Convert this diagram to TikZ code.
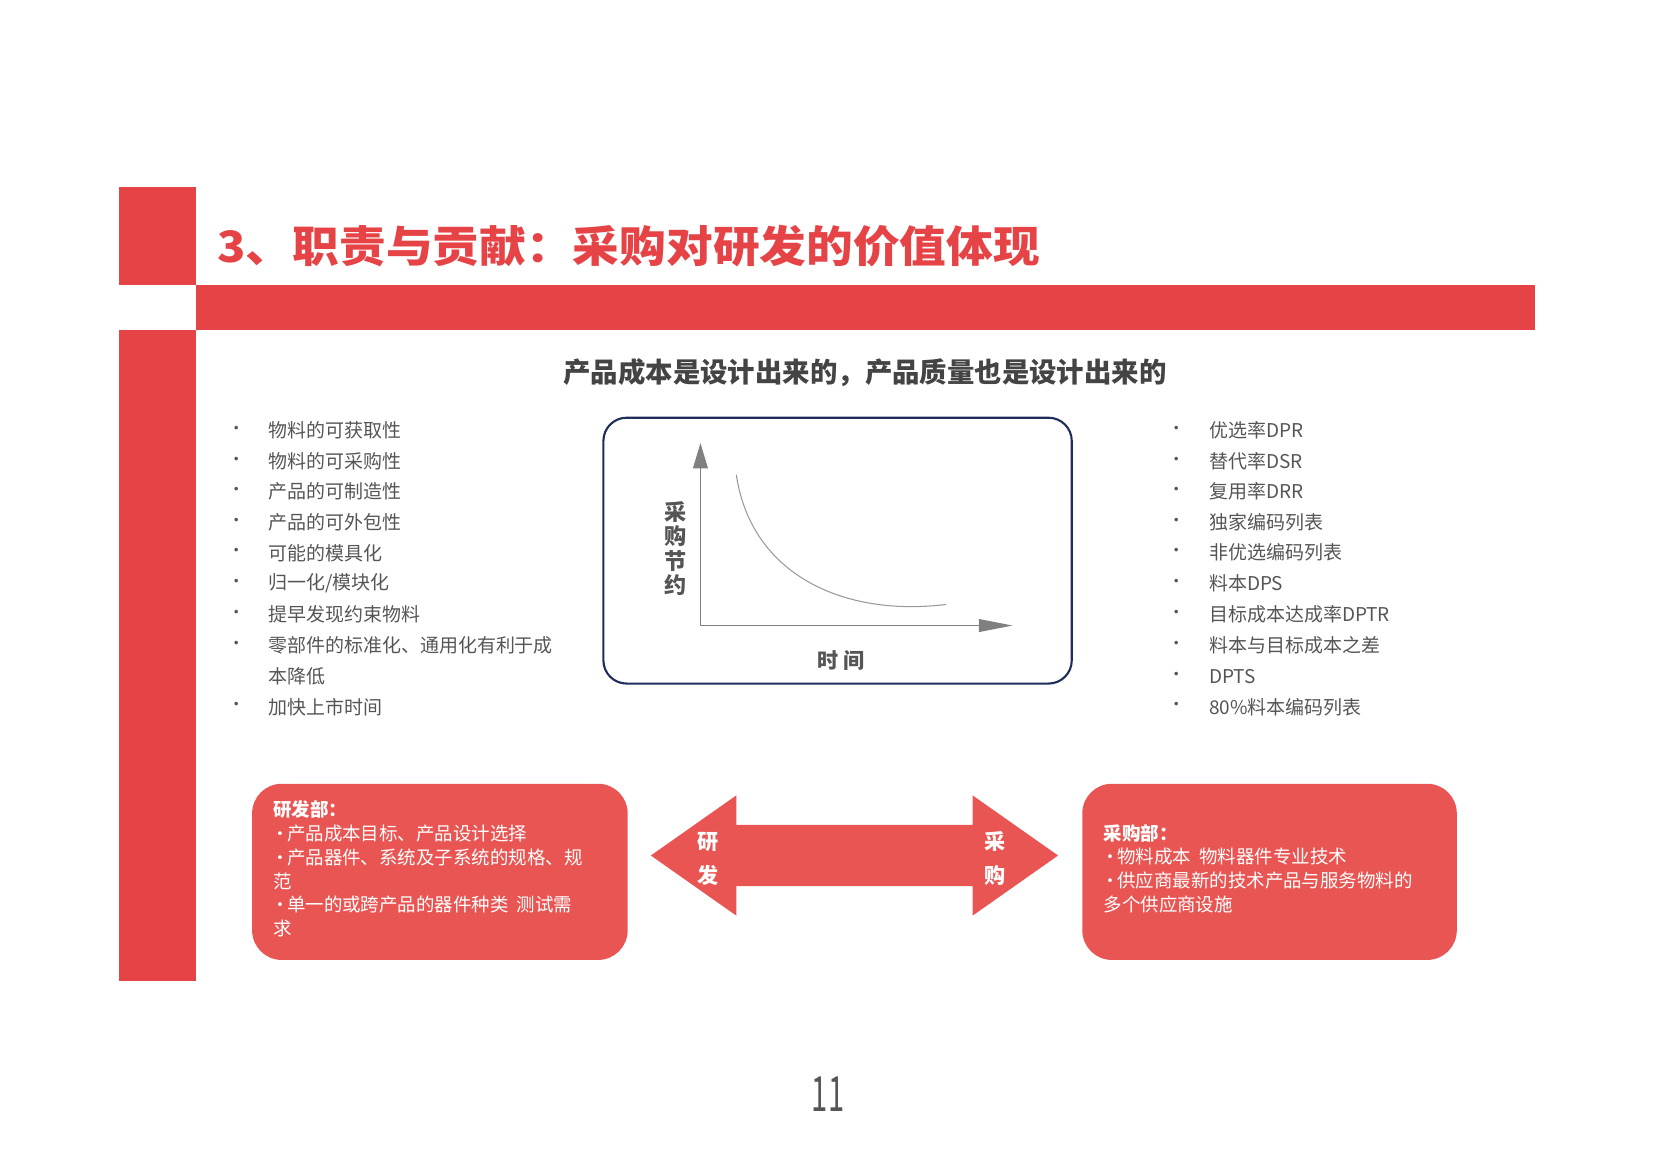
\documentclass[tikz,border=0pt]{standalone}
\usepackage{fontspec}
\setmainfont{Noto Sans CJK SC}
\usetikzlibrary{arrows.meta}
\definecolor{bred}{HTML}{E54346}
\definecolor{bfill}{HTML}{E95552}
\definecolor{tgray}{HTML}{555555}
\definecolor{navy}{HTML}{1F2D5A}
\newcommand{\bul}{\kern-2pt{\fontsize{17}{17}\selectfont•}\kern-2pt}
\tikzset{
 litem/.style={anchor=west,text=tgray,font=\fontsize{18}{29}\selectfont,inner sep=0},
 dot/.style={anchor=center,text=tgray,font=\fontsize{16}{16}\selectfont,inner sep=0},
 wtxt/.style={anchor=north west,text=white,font=\fontsize{17.5}{22.5}\selectfont,align=left,inner sep=0},
}
\begin{document}
\begin{tikzpicture}[x=1pt,y=-1pt]
\useasboundingbox (0,0) rectangle (1567,1107.5);
\fill[bred] (113,177) rectangle (186,270);
\fill[bred] (113,313) rectangle (186,930);
\fill[bred] (186,270) rectangle (1455,313);
\node[anchor=west,text=bred,font=\fontsize{41}{41}\selectfont\bfseries,inner sep=0,xscale=1.08] (title) at (206,233) {3、职责与贡献：采购对研发的价值体现};
\node[text=tgray!80!black,font=\fontsize{26}{26}\selectfont\bfseries,inner sep=0] (sub) at (820,353) {产品成本是设计出来的，产品质量也是设计出来的};
% left list
\foreach \t/\y [count=\i] in {物料的可获取性/408,物料的可采购性/437,产品的可制造性/466,产品的可外包性/495,可能的模具化/524,{归一化/模块化}/553,提早发现约束物料/582,零部件的标准化、通用化有利于成/612,加快上市时间/670}{
 \node[dot] (ld\i) at (224,\y) {•};
 \node[litem] (l\i) at (254,\y) {\t};
}
\node[litem] (l8b) at (254,641) {本降低};
% right list
\foreach \t/\y [count=\i] in {优选率DPR/408,替代率DSR/437,复用率DRR/466,独家编码列表/495,非优选编码列表/524,料本DPS/553,目标成本达成率DPTR/582,料本与目标成本之差/612,DPTS/641,80\%料本编码列表/670}{
 \node[dot] (rd\i) at (1115,\y) {•};
 \node[litem] (r\i) at (1146,\y) {\t};
}
% chart box
\draw[navy,line width=2pt,rounded corners=22pt] (572,396) rectangle (1016,648);
\coordinate (o) at (664,593);
\coordinate (yt) at (664,420);
\coordinate (xt) at (960,593);
\draw[gray,line width=1.5pt,-{Triangle[length=24pt,width=14pt]}] (o) -- (yt);
\draw[gray,line width=1.5pt,-{Triangle[length=32pt,width=12pt]}] (o) -- (xt);
\draw[gray!80,line width=1pt] (698,450) .. controls (712,545) and (800,585) .. (897,573);
\node[text=tgray,font=\fontsize{21}{23}\selectfont\bfseries,align=center,inner sep=0] (ylab) at (640,520) {采\\购\\节\\约};
\node[text=tgray,font=\fontsize{20}{20}\selectfont\bfseries,inner sep=0] (xlab) at (797,626) {时 间};
% bottom boxes
\fill[bfill,rounded corners=28pt] (239,743) rectangle (595,910);
\fill[bfill,rounded corners=28pt] (1026,743) rectangle (1381,910);
\node[wtxt] (rd) at (259,759) {\textbf{研发部：}\\\bul 产品成本目标、产品设计选择\\\bul 产品器件、系统及子系统的规格、规\\范\\\bul 单一的或跨产品的器件种类\ \ 测试需\\求};
\node[wtxt] (cg) at (1046,781) {\textbf{采购部：}\\\bul 物料成本\ \ 物料器件专业技术\\\bul 供应商最新的技术产品与服务物料的\\多个供应商设施};
% double arrow
\fill[bfill] (617,811) -- (698,754) -- (698,782) -- (922,782) -- (922,754) -- (1003,811) -- (922,868) -- (922,840) -- (698,840) -- (698,868) -- cycle;
\node[text=white,font=\fontsize{20}{32}\selectfont\bfseries,align=center,inner sep=0] (ya) at (671,814) {研\\发};
\node[text=white,font=\fontsize{20}{32}\selectfont\bfseries,align=center,inner sep=0] (ca) at (943,814) {采\\购};
\node[text=tgray,font=\fontsize{46}{46}\selectfont,inner sep=0,xscale=0.6] (pg) at (785,1037) {11};
\end{tikzpicture}
\end{document}
